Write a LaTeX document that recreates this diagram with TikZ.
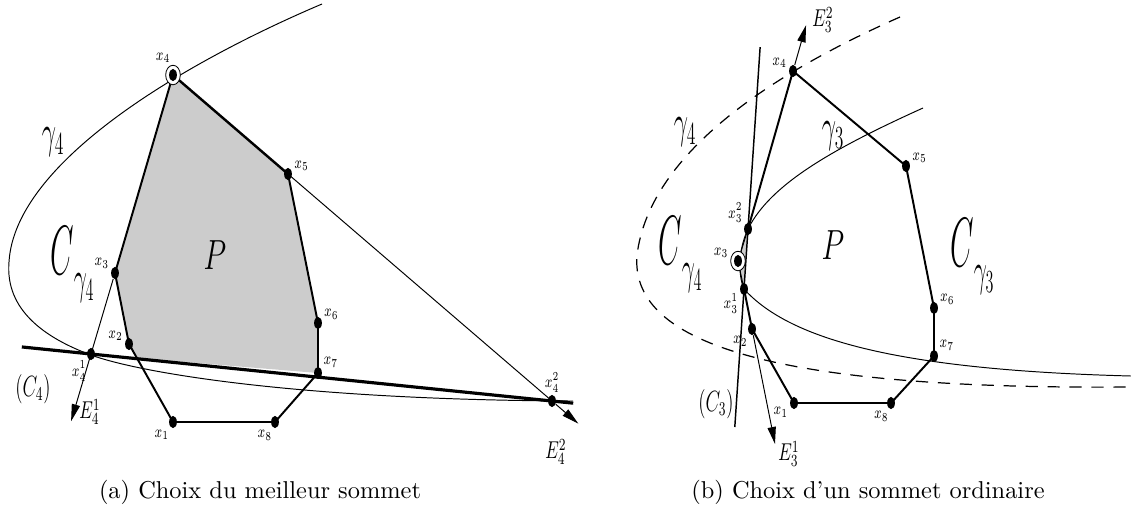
\documentclass[tikz,border=0pt]{standalone}
\usepackage{amsmath}
\usepackage{tikz}
\usetikzlibrary{arrows.meta, shapes.geometric, calc, backgrounds}

\newcommand{\etroit}[2][0.6]{\scalebox{#1}[1]{#2}}
\newcommand{\xs}[1]{\etroit[0.7]{$x_{#1}$}}
% grand C avec indice gamma
\newcommand{\grandC}[1]{\scalebox{0.5}[1.15]{\Huge$C$}%
  \raisebox{-8pt}{\scalebox{0.55}[1.1]{\LARGE$\gamma_{#1}$}}}

\begin{document}
\begin{tikzpicture}[
  x=0.41pt, y=-0.41pt,
  sommet/.style={ellipse, fill=black, inner sep=0pt,
                 minimum width=3.2pt, minimum height=5pt},
  choisi/.style={ellipse, draw, fill=white, inner sep=0pt, line width=0.35pt,
                 minimum width=6pt, minimum height=8pt},
  etiq/.style={font=\scriptsize, inner sep=0.6pt},
  arete/.style={line width=0.8pt},
  fine/.style={line width=0.4pt},
  droite/.style={line width=1.3pt},
  fleche/.style={line width=0.4pt, -{Triangle[length=7pt,width=3.4pt]}},
  pointille/.style={line width=0.5pt, dash pattern=on 5pt off 4pt},
  nom/.style={inner sep=0pt},
]
  \useasboundingbox (0,0) rectangle (1131,512);

  % (a) choix du meilleur sommet
  \node[choisi, label={[etiq]95:\xs{4}}] (A4c) at (173,75) {};
  \node[sommet] (A4) at (173,75) {};
  \node[sommet, label={[etiq]15:\xs{5}}]   (A5) at (288,174) {};
  \node[sommet, label={[etiq]25:\xs{6}}]   (A6) at (318,323) {};
  \node[sommet, label={[etiq]45:\xs{7}}]   (A7) at (318,373) {};
  \node[sommet, label={[etiq]-100:\xs{8}}] (A8) at (275,422) {};
  \node[sommet, label={[etiq]-110:\xs{1}}] (A1) at (173,422) {};
  \node[sommet, label={[etiq]165:\xs{2}}]  (A2) at (129,344) {};
  \node[sommet, label={[etiq]145:\xs{3}}]  (A3) at (115,273) {};
  \node[sommet, label={[etiq]-120:\etroit[0.7]{$x_4^1$}}] (A41) at (91,354) {};
  \node[sommet, label={[etiq]90:\etroit[0.7]{$x_4^2$}}]   (A42) at (552,401) {};
  \coordinate (E41) at ($(A3)!1.83!(A41)$);
  \coordinate (E42) at ($(A5)!1.1!(A42)$);
  \coordinate (C4g) at ($(A41)!-0.15!(A42)$);
  \coordinate (C4d) at ($(A41)!1.046!(A42)$);
  \coordinate (Acoupe) at ($(A2)!0.18!(A1)$);

  \begin{scope}[on background layer]
    \fill[black!20] (A3.center) -- (A4.center) -- (A5.center) -- (A6.center)
      -- (A7.center) -- (Acoupe) -- (A2.center) -- cycle;
    % gamma_4
    \draw[fine] (322,4) .. controls (190,60) and (15,160) .. (9,262)
      .. controls (5,310) and (45,338) .. (91,355)
      .. controls (140,373) and (300,400) .. (573,401);
    \draw[arete] (A3.center) -- (A4.center);
    \draw[arete, line width=1pt] (A4.center) -- (A5.center);
    \draw[arete] (A5.center) -- (A6.center) -- (A7.center) -- (A8.center)
      -- (A1.center) -- (A2.center) -- (A3.center);
    \draw[droite] (C4g) -- (C4d);
    \draw[fine] (A5.center) -- (A42.center);
  \end{scope}
  \draw[fleche] (A3) -- (E41);
  \draw[fleche] (A42) -- (E42);

  \node[nom, font=\large]  (lC4)  at (33,389)  {\etroit[0.65]{$(C_4)$}};
  \node[nom]               (lE41) at (90,412)  {\etroit[0.7]{$E_4^1$}};
  \node[nom]               (lE42) at (556,452) {\etroit[0.7]{$E_4^2$}};
  \node[nom, font=\LARGE]  (lg4)  at (53,142)  {\scalebox{0.6}[1.1]{$\gamma_4$}};
  \node[nom, anchor=north west] (lCg4) at (50,226) {\grandC{4}};
  \node[nom, font=\LARGE]  (lPa)  at (215,255) {\etroit[0.7]{$P$}};

  % (b) choix d'un sommet ordinaire
  \node[choisi, label={[etiq]170:\xs{3}}] (B3c) at (738,261) {};
  \node[sommet] (B3) at (738,261) {};
  \node[sommet, label={[etiq]160:\xs{4}}]  (B4) at (793,71) {};
  \node[sommet, label={[etiq]15:\xs{5}}]   (B5) at (906,166) {};
  \node[sommet, label={[etiq]25:\xs{6}}]   (B6) at (934,308) {};
  \node[sommet, label={[etiq]45:\xs{7}}]   (B7) at (934,356) {};
  \node[sommet, label={[etiq]-95:\xs{8}}]  (B8) at (891,403) {};
  \node[sommet, label={[etiq]210:\xs{1}}]  (B1) at (794,403) {};
  \node[sommet, label={[etiq]-115:\xs{2}}] (B2) at (752,329) {};
  \node[sommet, label={[etiq]-150:\etroit[0.7]{$x_3^1$}}] (B31) at (744,289) {};
  \node[sommet, label={[etiq]130:\etroit[0.7]{$x_3^2$}}]  (B32) at (748,229) {};
  \coordinate (E31) at ($(B31)!3.875!(B2)$);
  \coordinate (E32) at ($(B32)!1.29!(B4)$);
  \coordinate (C3h) at ($(B31)!4.03!(B32)$);
  \coordinate (C3b) at ($(B31)!-2.3!(B32)$);

  \begin{scope}[on background layer]
    \fill[black!20] (B32.center) -- (B3.center) -- (B31.center) -- cycle;
    % gamma_4 (pointille) et gamma_3
    \draw[pointille] (900,17) .. controls (780,70) and (650,150) .. (637,255)
      .. controls (630,340) and (760,390) .. (1131,387);
    \draw[fine] (923,108) .. controls (830,150) and (770,185) .. (748,229)
      .. controls (738,250) and (738,275) .. (744,289)
      .. controls (790,340) and (900,370) .. (1131,376);
    \draw[fine] (B32.center) -- (B3.center) -- (B31.center);
    \draw[arete] (B31.center) -- (B2.center) -- (B1.center) -- (B8.center)
      -- (B7.center) -- (B6.center) -- (B5.center) -- (B4.center) -- (B32.center);
    \draw[line width=0.6pt] (C3b) -- (C3h);
  \end{scope}
  \draw[fleche] (B2) -- (E31);
  \draw[fleche] (B4) -- (E32);

  \node[nom, font=\large]  (lC3)  at (716,404) {\etroit[0.65]{$(C_3)$}};
  \node[nom]               (lE31) at (789,454) {\etroit[0.7]{$E_3^1$}};
  \node[nom]               (lE32) at (823,20)  {\etroit[0.7]{$E_3^2$}};
  \node[nom, font=\LARGE]  (lg4b) at (685,132) {\scalebox{0.6}[1.1]{$\gamma_4$}};
  \node[nom, font=\LARGE]  (lg3)  at (833,136) {\scalebox{0.6}[1.1]{$\gamma_3$}};
  \node[nom, anchor=north west] (lCg4b) at (658,216) {\grandC{4}};
  \node[nom, anchor=north west] (lCg3)  at (950,218) {\grandC{3}};
  \node[nom, font=\LARGE]  (lPb)  at (833,245) {\etroit[0.7]{$P$}};

  % legendes
  \node (capA) at (260,492) {(a) Choix du meilleur sommet};
  \node (capB) at (868,492) {(b) Choix d'un sommet ordinaire};
\end{tikzpicture}
\end{document}
